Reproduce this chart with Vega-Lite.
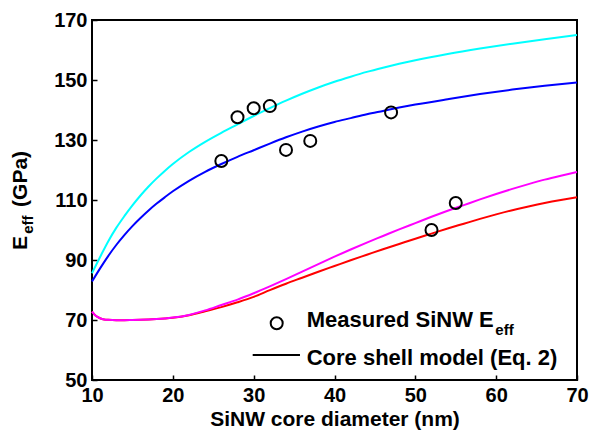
{
  "$schema": "https://vega.github.io/schema/vega-lite/v6.json",
  "width": 485,
  "height": 360,
  "autosize": "none",
  "padding": {"left": 92, "top": 20, "right": 12, "bottom": 55},
  "background": "white",
  "datasets": {
    "curves": [
      {"series": "cyan", "d": 10, "E": 85.6}, {"series": "cyan", "d": 11, "E": 91.0}, {"series": "cyan", "d": 12, "E": 96.2}, {"series": "cyan", "d": 13, "E": 100.7}, {"series": "cyan", "d": 14, "E": 104.6}, {"series": "cyan", "d": 15, "E": 108.2}, {"series": "cyan", "d": 16, "E": 111.5}, {"series": "cyan", "d": 17, "E": 114.5}, {"series": "cyan", "d": 18, "E": 117.2}, {"series": "cyan", "d": 19, "E": 119.7}, {"series": "cyan", "d": 20, "E": 122.0}, {"series": "cyan", "d": 22, "E": 126.0}, {"series": "cyan", "d": 24, "E": 129.4}, {"series": "cyan", "d": 26, "E": 132.4}, {"series": "cyan", "d": 28, "E": 135.2}, {"series": "cyan", "d": 30, "E": 138.0}, {"series": "cyan", "d": 32, "E": 140.6}, {"series": "cyan", "d": 34, "E": 143.1}, {"series": "cyan", "d": 36, "E": 145.4}, {"series": "cyan", "d": 38, "E": 147.5}, {"series": "cyan", "d": 40, "E": 149.4}, {"series": "cyan", "d": 42, "E": 151.1}, {"series": "cyan", "d": 44, "E": 152.7}, {"series": "cyan", "d": 46, "E": 154.1}, {"series": "cyan", "d": 48, "E": 155.4}, {"series": "cyan", "d": 50, "E": 156.6}, {"series": "cyan", "d": 54, "E": 158.7}, {"series": "cyan", "d": 58, "E": 160.5}, {"series": "cyan", "d": 62, "E": 162.1}, {"series": "cyan", "d": 66, "E": 163.6}, {"series": "cyan", "d": 70, "E": 165.0},
      {"series": "blue", "d": 10, "E": 82.8}, {"series": "blue", "d": 11, "E": 87.2}, {"series": "blue", "d": 12, "E": 91.3}, {"series": "blue", "d": 13, "E": 95.0}, {"series": "blue", "d": 14, "E": 98.3}, {"series": "blue", "d": 15, "E": 101.3}, {"series": "blue", "d": 16, "E": 104.0}, {"series": "blue", "d": 17, "E": 106.5}, {"series": "blue", "d": 18, "E": 108.8}, {"series": "blue", "d": 19, "E": 110.9}, {"series": "blue", "d": 20, "E": 112.9}, {"series": "blue", "d": 22, "E": 116.4}, {"series": "blue", "d": 24, "E": 119.4}, {"series": "blue", "d": 26, "E": 122.0}, {"series": "blue", "d": 28, "E": 124.4}, {"series": "blue", "d": 30, "E": 126.6}, {"series": "blue", "d": 32, "E": 128.8}, {"series": "blue", "d": 34, "E": 130.9}, {"series": "blue", "d": 36, "E": 132.8}, {"series": "blue", "d": 38, "E": 134.5}, {"series": "blue", "d": 40, "E": 136.0}, {"series": "blue", "d": 42, "E": 137.3}, {"series": "blue", "d": 44, "E": 138.6}, {"series": "blue", "d": 46, "E": 139.7}, {"series": "blue", "d": 48, "E": 140.8}, {"series": "blue", "d": 50, "E": 141.8}, {"series": "blue", "d": 54, "E": 143.6}, {"series": "blue", "d": 58, "E": 145.3}, {"series": "blue", "d": 62, "E": 146.8}, {"series": "blue", "d": 66, "E": 148.1}, {"series": "blue", "d": 70, "E": 149.2},
      {"series": "red", "d": 10, "E": 72.8}, {"series": "red", "d": 10.5, "E": 71.3}, {"series": "red", "d": 11, "E": 70.6}, {"series": "red", "d": 11.5, "E": 70.2}, {"series": "red", "d": 12, "E": 70.05}, {"series": "red", "d": 13, "E": 69.95}, {"series": "red", "d": 14, "E": 69.95}, {"series": "red", "d": 15, "E": 70.0}, {"series": "red", "d": 16, "E": 70.05}, {"series": "red", "d": 17, "E": 70.15}, {"series": "red", "d": 18, "E": 70.3}, {"series": "red", "d": 19, "E": 70.5}, {"series": "red", "d": 20, "E": 70.75}, {"series": "red", "d": 22, "E": 71.6}, {"series": "red", "d": 24, "E": 72.9}, {"series": "red", "d": 26, "E": 74.3}, {"series": "red", "d": 28, "E": 75.9}, {"series": "red", "d": 30, "E": 77.7}, {"series": "red", "d": 32, "E": 79.95}, {"series": "red", "d": 34, "E": 82.1}, {"series": "red", "d": 36, "E": 84.1}, {"series": "red", "d": 38, "E": 86.1}, {"series": "red", "d": 40, "E": 88.0}, {"series": "red", "d": 42, "E": 89.9}, {"series": "red", "d": 44, "E": 91.75}, {"series": "red", "d": 46, "E": 93.6}, {"series": "red", "d": 48, "E": 95.35}, {"series": "red", "d": 50, "E": 97.1}, {"series": "red", "d": 52, "E": 98.8}, {"series": "red", "d": 54, "E": 100.5}, {"series": "red", "d": 56, "E": 102.1}, {"series": "red", "d": 58, "E": 103.7}, {"series": "red", "d": 60, "E": 105.2}, {"series": "red", "d": 62, "E": 106.6}, {"series": "red", "d": 64, "E": 107.85}, {"series": "red", "d": 66, "E": 109.0}, {"series": "red", "d": 68, "E": 110.0}, {"series": "red", "d": 70, "E": 110.9},
      {"series": "magenta", "d": 10, "E": 72.8}, {"series": "magenta", "d": 10.5, "E": 71.3}, {"series": "magenta", "d": 11, "E": 70.6}, {"series": "magenta", "d": 11.5, "E": 70.2}, {"series": "magenta", "d": 12, "E": 70.05}, {"series": "magenta", "d": 13, "E": 69.95}, {"series": "magenta", "d": 14, "E": 69.95}, {"series": "magenta", "d": 15, "E": 70.0}, {"series": "magenta", "d": 16, "E": 70.05}, {"series": "magenta", "d": 17, "E": 70.15}, {"series": "magenta", "d": 18, "E": 70.3}, {"series": "magenta", "d": 19, "E": 70.5}, {"series": "magenta", "d": 20, "E": 70.8}, {"series": "magenta", "d": 22, "E": 71.7}, {"series": "magenta", "d": 24, "E": 73.2}, {"series": "magenta", "d": 26, "E": 75.0}, {"series": "magenta", "d": 28, "E": 76.8}, {"series": "magenta", "d": 30, "E": 78.9}, {"series": "magenta", "d": 32, "E": 81.2}, {"series": "magenta", "d": 34, "E": 83.6}, {"series": "magenta", "d": 36, "E": 86.1}, {"series": "magenta", "d": 38, "E": 88.6}, {"series": "magenta", "d": 40, "E": 91.1}, {"series": "magenta", "d": 42, "E": 93.5}, {"series": "magenta", "d": 44, "E": 95.8}, {"series": "magenta", "d": 46, "E": 98.0}, {"series": "magenta", "d": 48, "E": 100.2}, {"series": "magenta", "d": 50, "E": 102.3}, {"series": "magenta", "d": 52, "E": 104.4}, {"series": "magenta", "d": 54, "E": 106.4}, {"series": "magenta", "d": 56, "E": 108.3}, {"series": "magenta", "d": 58, "E": 110.2}, {"series": "magenta", "d": 60, "E": 112.0}, {"series": "magenta", "d": 62, "E": 113.7}, {"series": "magenta", "d": 64, "E": 115.3}, {"series": "magenta", "d": 66, "E": 116.8}, {"series": "magenta", "d": 68, "E": 118.1}, {"series": "magenta", "d": 70, "E": 119.3}
    ],
    "measured": [
      {"d": 26, "E": 123.0}, {"d": 28, "E": 137.6}, {"d": 30, "E": 140.6}, {"d": 32, "E": 141.3}, {"d": 34, "E": 126.7}, {"d": 37, "E": 129.7}, {"d": 47, "E": 139.2}, {"d": 52, "E": 100.0}, {"d": 55, "E": 109.0}
    ]
  },
  "layer": [
    {
      "data": {"name": "curves"},
      "mark": {"type": "line", "strokeWidth": 2, "interpolate": "monotone"},
      "encoding": {
        "x": {"field": "d", "type": "quantitative", "scale": {"domain": [10, 70], "nice": false, "zero": false},
          "axis": {"orient": "bottom", "values": [10, 20, 30, 40, 50, 60, 70], "offset": -5, "tickSize": 5, "tickColor": "black", "tickWidth": 1.5, "labelPadding": 5, "labelFlush": false, "domain": false,
            "title": "SiNW core diameter (nm)", "titleFontSize": 21, "titleY": 50, "titleBaseline": "alphabetic"}},
        "y": {"field": "E", "type": "quantitative", "scale": {"domain": [50, 170], "nice": false, "zero": false},
          "axis": {"orient": "left", "values": [50, 70, 90, 110, 130, 150, 170], "offset": -5, "tickSize": 5, "tickColor": "black", "tickWidth": 1.5, "labelPadding": 5, "domain": false,
            "title": "E\u00a0\u00a0\u00a0\u00a0\u00a0(GPa)", "titleFontSize": 21, "titleX": -71, "titleY": 180, "titleAngle": 270, "titleAlign": "center", "titleBaseline": "alphabetic"}},
        "color": {"field": "series", "type": "nominal", "legend": null,
          "scale": {"domain": ["cyan", "blue", "red", "magenta"], "range": ["#00FFFF", "#0000FF", "#FF0000", "#FF00FF"]}},
        "order": {"field": "d", "type": "quantitative"}
      }
    },
    {
      "data": {"name": "measured"},
      "mark": {"type": "point", "shape": "circle", "filled": false, "stroke": "black", "strokeWidth": 2, "size": 144, "opacity": 1},
      "encoding": {
        "x": {"field": "d", "type": "quantitative"},
        "y": {"field": "E", "type": "quantitative"}
      }
    },
    {
      "data": {"values": [{}]},
      "mark": {"type": "point", "shape": "circle", "filled": false, "stroke": "black", "strokeWidth": 2, "size": 144, "opacity": 1},
      "encoding": {
        "x": {"datum": 32.85, "type": "quantitative"},
        "y": {"datum": 68.9, "type": "quantitative"}
      }
    },
    {
      "data": {"values": [{}]},
      "mark": {"type": "rule", "stroke": "black", "strokeWidth": 2},
      "encoding": {
        "x": {"datum": 29.88, "type": "quantitative"},
        "x2": {"datum": 35.73},
        "y": {"datum": 58.33, "type": "quantitative"}
      }
    },
    {
      "data": {"values": [{}]},
      "mark": {"type": "text", "align": "left", "baseline": "alphabetic", "fontSize": 22, "fontWeight": "bold", "font": "Liberation Sans", "color": "black", "text": "Measured SiNW E"},
      "encoding": {
        "x": {"datum": 36.56, "type": "quantitative"},
        "y": {"datum": 67.8, "type": "quantitative"}
      }
    },
    {
      "data": {"values": [{}]},
      "mark": {"type": "text", "align": "left", "baseline": "alphabetic", "fontSize": 15, "fontWeight": "bold", "font": "Liberation Sans", "color": "black", "text": "eff"},
      "encoding": {
        "x": {"datum": 59.9, "type": "quantitative"},
        "y": {"datum": 65.0, "type": "quantitative"}
      }
    },
    {
      "data": {"values": [{}]},
      "mark": {"type": "text", "align": "center", "baseline": "alphabetic", "angle": 270, "fontSize": 15, "fontWeight": "bold", "font": "Liberation Sans", "color": "black", "text": "eff"},
      "encoding": {
        "x": {"datum": 2.66, "type": "quantitative"},
        "y": {"datum": 101.8, "type": "quantitative"}
      }
    },
    {
      "data": {"values": [{}]},
      "mark": {"type": "text", "align": "left", "baseline": "alphabetic", "fontSize": 22, "fontWeight": "bold", "font": "Liberation Sans", "color": "black", "text": "Core shell model (Eq. 2)"},
      "encoding": {
        "x": {"datum": 36.56, "type": "quantitative"},
        "y": {"datum": 55.0, "type": "quantitative"}
      }
    }
  ],
  "config": {
    "view": {"stroke": "black", "strokeWidth": 2},
    "axis": {
      "grid": false, "zindex": 1,
      "labelFont": "Liberation Sans", "labelFontWeight": "bold", "labelFontSize": 20, "labelColor": "black",
      "titleFont": "Liberation Sans", "titleFontWeight": "bold", "titleColor": "black"
    }
  }
}
